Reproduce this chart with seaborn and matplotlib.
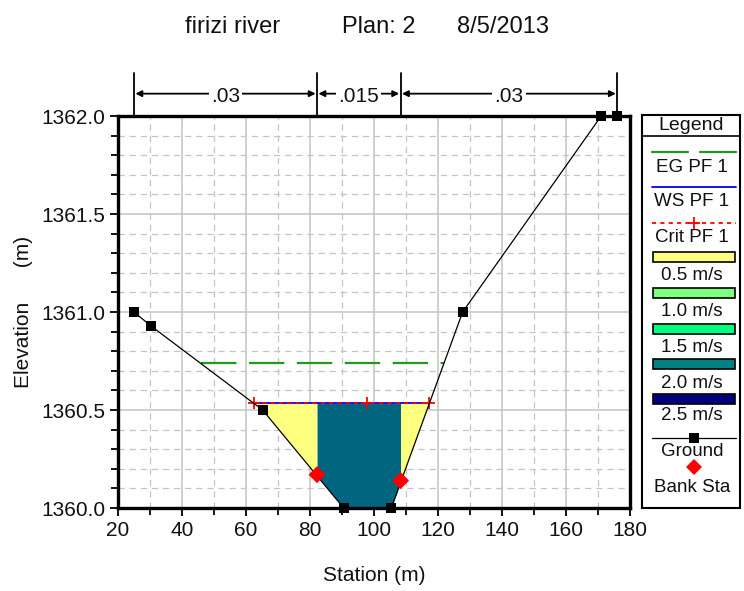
import numpy as np
import pandas as pd
import matplotlib
matplotlib.use("Agg")
import matplotlib.pyplot as plt
import seaborn as sns
from matplotlib.colors import LinearSegmentedColormap, Normalize
from matplotlib.patches import Rectangle
from matplotlib.ticker import MultipleLocator, FormatStrFormatter

# ---- cross-section data -------------------------------------------------
ground_station = [25.0, 30.2, 65.2, 90.5, 105.4, 127.7, 171.0, 176.0]
ground_elev = [1361.0, 1360.93, 1360.5, 1360.0, 1360.0, 1361.0, 1362.0, 1362.0]

bank_station = [82.2, 108.3]
bank_elev = [1360.17, 1360.14]

ws_elev = 1360.534      # WS PF 1
crit_elev = 1360.534    # Crit PF 1
eg_elev = 1360.738      # EG PF 1

mannings_labels = [".03", ".015", ".03"]

# mean velocity in left overbank, main channel, right overbank (m/s)
subsection_velocity = [0.45, 2.1, 0.45]

legend_speeds = [0.5, 1.0, 1.5, 2.0, 2.5]
legend_colors = ["#ffff80", "#80ff80", "#00ff80", "#008080", "#000080"]

title_parts = ["firizi river", "Plan: 2", "8/5/2013"]

# ---- style -------------------------------------------------------------
sns.set_theme(style="white")
plt.rcParams["font.family"] = ["Liberation Sans", "DejaVu Sans"]
plt.rcParams["lines.scale_dashes"] = False

W, H = 744, 591
fig = plt.figure(figsize=(W / 100, H / 100), dpi=100)
fig.patch.set_facecolor("white")


def fig_rect(x0, y0, x1, y1):
    """pixel box (top-left origin) -> figure fraction rect"""
    return [x0 / W, 1 - y1 / H, (x1 - x0) / W, (y1 - y0) / H]


ax = fig.add_axes(fig_rect(118, 116, 630, 508))

gx = np.array(ground_station)
gy = np.array(ground_elev)


def ground_crossings(level):
    xs = []
    for i in range(len(gx) - 1):
        y0, y1 = gy[i], gy[i + 1]
        if (y0 - level) * (y1 - level) < 0:
            xs.append(gx[i] + (level - y0) / (y1 - y0) * (gx[i + 1] - gx[i]))
    return xs[0], xs[-1]


ws_left, ws_right = ground_crossings(ws_elev)
eg_left, eg_right = ground_crossings(eg_elev)

# ---- velocity-coloured flow area ---------------------------------------
norm = Normalize(legend_speeds[0], legend_speeds[-1])
cmap = LinearSegmentedColormap.from_list(
    "vel", list(zip([norm(v) for v in legend_speeds], legend_colors)))

bounds = [ws_left, bank_station[0], bank_station[1], ws_right]
for i, v in enumerate(subsection_velocity):
    lo, hi = bounds[i], bounds[i + 1]
    xs = np.unique(np.concatenate([[lo, hi], gx[(gx > lo) & (gx < hi)]]))
    ys = np.interp(xs, gx, gy)
    ax.fill_between(xs, ys, ws_elev, color=cmap(norm(np.clip(v, 0.5, 2.5))),
                    lw=0, zorder=2)

# ---- grid ----------------------------------------------------------------
ax.set_xlim(20, 180)
ax.set_ylim(1360.0, 1362.0)
ax.xaxis.set_major_locator(MultipleLocator(20))
ax.xaxis.set_minor_locator(MultipleLocator(10))
ax.yaxis.set_major_locator(MultipleLocator(0.5))
ax.yaxis.set_minor_locator(MultipleLocator(0.1))
ax.yaxis.set_major_formatter(FormatStrFormatter("%.1f"))
ax.grid(which="major", color="#c4c4c4", lw=1.1, ls="-", zorder=0)
ax.grid(which="minor", color="#c4c4c4", lw=0.9, ls=(0, (4.5, 3.5)), zorder=0)
ax.set_axisbelow(True)

# ---- water surface lines -----------------------------------------------
ax.plot([eg_left, eg_right], [eg_elev, eg_elev], color="#1f9a1f", lw=1.6,
        ls=(0, (25.5, 9)), zorder=4)
ax.plot([ws_left, ws_right], [ws_elev, ws_elev], color="#0000ff", lw=1.3, zorder=4)
crit_mid = (gx[gy == gy.min()].min() + gx[gy == gy.min()].max()) / 2
ax.plot([ws_left, crit_mid, ws_right], [crit_elev] * 3, color="#ff0000", lw=1.3,
        ls=(0, (3, 3)), marker="+", ms=8, mew=1.3, zorder=5)

# ---- ground and bank stations ------------------------------------------
ground_df = pd.DataFrame({"Station": ground_station, "Elevation": ground_elev})
sns.lineplot(data=ground_df, x="Station", y="Elevation", ax=ax, color="black",
             lw=0.9, marker="s", markersize=7, markeredgewidth=0, sort=False,
             zorder=6, clip_on=False)
bank_df = pd.DataFrame({"Station": bank_station, "Elevation": bank_elev})
sns.scatterplot(data=bank_df, x="Station", y="Elevation", ax=ax, color="#ff0000",
                marker="D", s=75, edgecolor="none", zorder=7)

# ---- axes styling --------------------------------------------------------
for s in ax.spines.values():
    s.set_visible(True)
    s.set_color("black")
    s.set_linewidth(2.4)
ax.tick_params(which="both", direction="out", color="black", width=1.3,
               left=True, bottom=True, labelsize=15, labelcolor="#111111")
ax.tick_params(which="major", length=6, pad=3)
ax.tick_params(which="minor", length=5)
ax.set_xlabel("Station (m)", fontsize=15, labelpad=19, color="#111111")
ax.set_ylabel("Elevation      (m)", fontsize=15, labelpad=6, color="#111111")

# ---- Manning's n dimension lines above the plot ------------------------
trans = ax.get_xaxis_transform()
n_bounds = [ground_station[0], bank_station[0], bank_station[1], ground_station[-1]]
for xb in n_bounds:
    ax.plot([xb, xb], [1.0, 1.11], transform=trans, color="black", lw=1.3,
            clip_on=False, zorder=8)
for i, lab in enumerate(mannings_labels):
    x0, x1 = n_bounds[i], n_bounds[i + 1]
    ax.annotate("", xy=(x1, 1.057), xytext=(x0, 1.057), xycoords=trans,
                textcoords=trans,
                arrowprops=dict(arrowstyle="<|-|>", color="black", lw=1.3,
                                mutation_scale=9, shrinkA=1, shrinkB=1))
    ax.text((x0 + x1) / 2, 1.05, lab, transform=trans, ha="center", va="center",
            fontsize=15, color="#111111",
            bbox=dict(facecolor="white", edgecolor="none", pad=1.5))

# ---- title ------------------------------------------------------------------
for part, px in zip(title_parts, [185, 342, 457]):
    fig.text(px / W, 1 - 27 / H, part, ha="left", va="center", fontsize=17,
             color="#111111")

# ---- legend panel --------------------------------------------------------
lg = fig.add_axes(fig_rect(642, 115, 740, 508))
lg.set_xlim(642, 740)
lg.set_ylim(508, 115)
lg.set_xticks([])
lg.set_yticks([])
lg.set_facecolor("white")
for s in lg.spines.values():
    s.set_visible(True)
    s.set_color("black")
    s.set_linewidth(1.5)
lg.axhline(136, color="black", lw=1.2)
lg.text(691, 126, "Legend", ha="center", va="center", fontsize=14, color="#111111")

lx0, lx1, lxm = 652, 736, 694
lg.plot([652, 688], [152, 152], color="#1f9a1f", lw=1.6)
lg.plot([700, 736], [152, 152], color="#1f9a1f", lw=1.6)
lg.plot([lx0, lx1], [187, 187], color="#0000ff", lw=1.3)
lg.plot([lx0, lx1], [223, 223], color="#ff0000", lw=1.3, ls=(0, (3, 3)))
lg.plot([lxm], [223], color="#ff0000", marker="+", ms=8, mew=1.3)
box_y = [257, 293, 329, 364, 399]
for yb, c in zip(box_y, legend_colors):
    lg.add_patch(Rectangle((653, yb - 5), 82, 10, facecolor=c, edgecolor="black",
                           lw=1.2))
lg.plot([lx0, lx1], [438, 438], color="black", lw=0.9)
lg.plot([lxm], [438], color="black", marker="s", ms=7, mew=0)
lg.plot([lxm], [467], color="#ff0000", marker="D", ms=8, mew=0)

legend_labels = ["EG PF 1", "WS PF 1", "Crit PF 1"] + \
    [f"{v:.1f} m/s" for v in legend_speeds] + ["Ground", "Bank Sta"]
label_y = [167, 202, 238, 275, 311, 347, 383, 415, 451, 488]
for t, yl in zip(legend_labels, label_y):
    lg.text(692, yl, t, ha="center", va="center", fontsize=13.5, color="#111111")

fig.savefig("out.png", dpi=100, facecolor="white")
